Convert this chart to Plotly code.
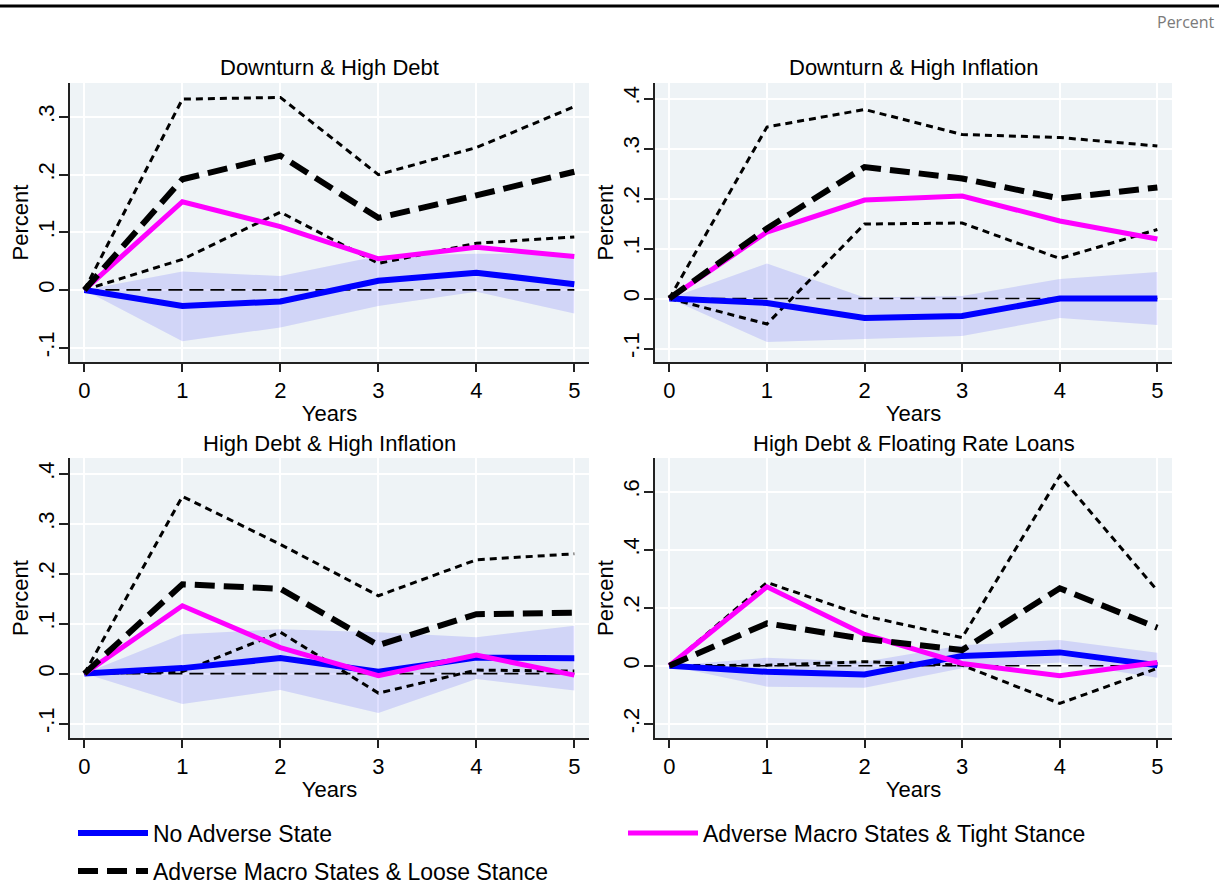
import plotly.graph_objects as go

YEARS = [0, 1, 2, 3, 4, 5]
ZERO_LINE = [0, 0, 0, 0, 0, 0]

PANEL_TITLES = ["Downturn & High Debt", "Downturn & High Inflation",
                "High Debt & High Inflation", "High Debt & Floating Rate Loans"]

# No adverse state (point estimate and band)
NO_ADV = [
    [0, -0.028, -0.020, 0.016, 0.030, 0.010],
    [0, -0.009, -0.039, -0.035, 0.000, 0.000],
    [0, 0.011, 0.031, 0.004, 0.032, 0.031],
    [0, -0.021, -0.030, 0.034, 0.046, 0.002],
]
NO_ADV_HI = [
    [0, 0.032, 0.024, 0.059, 0.063, 0.063],
    [0, 0.070, 0.002, 0.005, 0.039, 0.053],
    [0, 0.079, 0.089, 0.083, 0.073, 0.096],
    [0, 0.028, 0.014, 0.071, 0.089, 0.045],
]
NO_ADV_LO = [
    [0, -0.089, -0.065, -0.028, -0.003, -0.041],
    [0, -0.087, -0.081, -0.075, -0.039, -0.053],
    [0, -0.061, -0.033, -0.079, -0.011, -0.034],
    [0, -0.072, -0.076, -0.009, 0.011, -0.041],
]
# Adverse macro states & tight stance
TIGHT = [
    [0, 0.153, 0.110, 0.054, 0.074, 0.058],
    [0, 0.133, 0.197, 0.205, 0.155, 0.119],
    [0, 0.136, 0.052, -0.004, 0.037, -0.003],
    [0, 0.272, 0.108, 0.008, -0.034, 0.011],
]
# Adverse macro states & loose stance (estimate and bounds)
LOOSE = [
    [0, 0.192, 0.233, 0.125, 0.164, 0.205],
    [0, 0.140, 0.263, 0.240, 0.200, 0.222],
    [0, 0.179, 0.170, 0.057, 0.119, 0.122],
    [0, 0.146, 0.092, 0.054, 0.267, 0.131],
]
LOOSE_HI = [
    [0, 0.331, 0.334, 0.200, 0.247, 0.318],
    [0, 0.343, 0.378, 0.328, 0.322, 0.305],
    [0, 0.355, 0.259, 0.156, 0.228, 0.240],
    [0, 0.287, 0.172, 0.097, 0.655, 0.259],
]
LOOSE_LO = [
    [0, 0.053, 0.135, 0.046, 0.081, 0.092],
    [0, -0.051, 0.149, 0.151, 0.080, 0.138],
    [0, 0.004, 0.083, -0.039, 0.007, 0.005],
    [0, 0.002, 0.014, 0.002, -0.130, -0.009],
]

Y_TICKVALS = [
    [-0.1, 0, 0.1, 0.2, 0.3],
    [-0.1, 0, 0.1, 0.2, 0.3, 0.4],
    [-0.1, 0, 0.1, 0.2, 0.3, 0.4],
    [-0.2, 0, 0.2, 0.4, 0.6],
]
Y_TICKTEXT = [
    ["-.1", "0", ".1", ".2", ".3"],
    ["-.1", "0", ".1", ".2", ".3", ".4"],
    ["-.1", "0", ".1", ".2", ".3", ".4"],
    ["-.2", "0", ".2", ".4", ".6"],
]
Y_RANGES = [[-0.125, 0.359], [-0.127, 0.431], [-0.129, 0.432], [-0.249, 0.716]]

SERIES_NAMES = ["No Adverse State", "Adverse Macro States & Tight Stance",
                "Adverse Macro States & Loose Stance"]

W, H = 1219, 886
FONT = "Liberation Sans, Arial, sans-serif"

# pixel layout of plot areas
X_DOMS = [(70, 589), (655, 1172), (70, 589), (655, 1172)]
Y_DOMS = [(83, 362), (83, 362), (458, 738), (458, 738)]

fig = go.Figure()

for i in range(4):
    ax = "" if i == 0 else str(i + 1)
    xa, ya = "x" + ax, "y" + ax
    # band
    fig.add_trace(go.Scatter(x=YEARS, y=NO_ADV_LO[i], mode="lines", line=dict(width=0),
                             showlegend=False, hoverinfo="skip", xaxis=xa, yaxis=ya))
    fig.add_trace(go.Scatter(x=YEARS, y=NO_ADV_HI[i], mode="lines", line=dict(width=0),
                             fill="tonexty", fillcolor="rgba(0,0,255,0.12)",
                             showlegend=False, hoverinfo="skip", xaxis=xa, yaxis=ya))
    # zero reference
    fig.add_trace(go.Scatter(x=YEARS, y=ZERO_LINE, mode="lines",
                             line=dict(color="black", width=1.7, dash="14px,7px"),
                             showlegend=False, hoverinfo="skip", xaxis=xa, yaxis=ya))
    # loose bounds
    for b in (LOOSE_HI[i], LOOSE_LO[i]):
        fig.add_trace(go.Scatter(x=YEARS, y=b, mode="lines",
                                 line=dict(color="black", width=3, dash="7px,5px"),
                                 showlegend=False, hoverinfo="skip", xaxis=xa, yaxis=ya))
    fig.add_trace(go.Scatter(x=YEARS, y=NO_ADV[i], mode="lines", name=SERIES_NAMES[0],
                             line=dict(color="#0000FF", width=6),
                             showlegend=(i == 0), legend="legend", xaxis=xa, yaxis=ya))
    fig.add_trace(go.Scatter(x=YEARS, y=TIGHT[i], mode="lines", name=SERIES_NAMES[1],
                             line=dict(color="#FF00FF", width=5),
                             showlegend=(i == 0), legend="legend", xaxis=xa, yaxis=ya))
    fig.add_trace(go.Scatter(x=YEARS, y=LOOSE[i], mode="lines", name=SERIES_NAMES[2],
                             line=dict(color="black", width=6, dash="20px,9px"),
                             showlegend=(i == 0), legend="legend2", xaxis=xa, yaxis=ya))

    x0, x1 = X_DOMS[i]
    y0, y1 = Y_DOMS[i]
    xkey = "xaxis" if i == 0 else "xaxis%d" % (i + 1)
    ykey = "yaxis" if i == 0 else "yaxis%d" % (i + 1)
    fig.update_layout(**{
        xkey: dict(domain=[x0 / W, x1 / W], anchor=ya, range=[-0.147, 5.15],
                   tickvals=YEARS, ticktext=[str(v) for v in YEARS],
                   showline=True, linecolor="#222", linewidth=1.5,
                   ticks="outside", ticklen=8, tickwidth=1.5, tickcolor="#222",
                   ticklabelstandoff=0,
                   showgrid=True, gridcolor="white", gridwidth=1.5, zeroline=False,
                   tickfont=dict(family=FONT, size=22, color="black"),
                   title=dict(text="Years", font=dict(family=FONT, size=22, color="black"),
                              standoff=3)),
        ykey: dict(domain=[1 - y1 / H, 1 - y0 / H], anchor=xa, range=Y_RANGES[i],
                   tickvals=Y_TICKVALS[i], ticktext=Y_TICKTEXT[i], tickangle=-90,
                   showline=True, linecolor="#222", linewidth=1.5,
                   ticks="outside", ticklen=9, tickwidth=1.5, tickcolor="#222",
                   ticklabelstandoff=-4,
                   showgrid=True, gridcolor="white", gridwidth=1.5, zeroline=False,
                   tickfont=dict(family=FONT, size=22, color="black"),
                   title=dict(text="Percent", font=dict(family=FONT, size=22, color="black"),
                              standoff=0)),
    })
    fig.add_annotation(text=PANEL_TITLES[i], xref="paper", yref="paper",
                       x=(x0 + x1) / 2 / W, y=1 - (y0 - 15) / H,
                       xanchor="center", yanchor="middle",
                       showarrow=False, font=dict(family=FONT, size=22, color="black"))

# top rule and note
fig.add_shape(type="line", xref="paper", yref="paper", x0=0, x1=1,
              y0=1 - 6 / H, y1=1 - 6 / H, line=dict(color="black", width=3))
fig.add_annotation(text="Percent", xref="paper", yref="paper", x=1 - 2 / W, y=1 - 22 / H,
                   xanchor="right", yanchor="middle", showarrow=False,
                   font=dict(family="Open Sans, sans-serif", size=16, color="#7a7a7a"))

fig.update_layout(
    width=W, height=H, margin=dict(l=0, r=0, t=0, b=0, autoexpand=False),
    paper_bgcolor="white", plot_bgcolor="#EEF3F6",
    legend=dict(orientation="h", x=73 / W, xanchor="left", y=1 - 833 / H, yanchor="middle",
                traceorder="normal",
                font=dict(family=FONT, size=23, color="black"), itemwidth=70,
                entrywidth=465, entrywidthmode="pixels", bgcolor="rgba(0,0,0,0)"),
    legend2=dict(orientation="h", x=73 / W, xanchor="left", y=1 - 871 / H, yanchor="middle",
                 traceorder="normal",
                 font=dict(family=FONT, size=23, color="black"), itemwidth=70,
                 bgcolor="rgba(0,0,0,0)"),
)

fig.write_html("out.html")
